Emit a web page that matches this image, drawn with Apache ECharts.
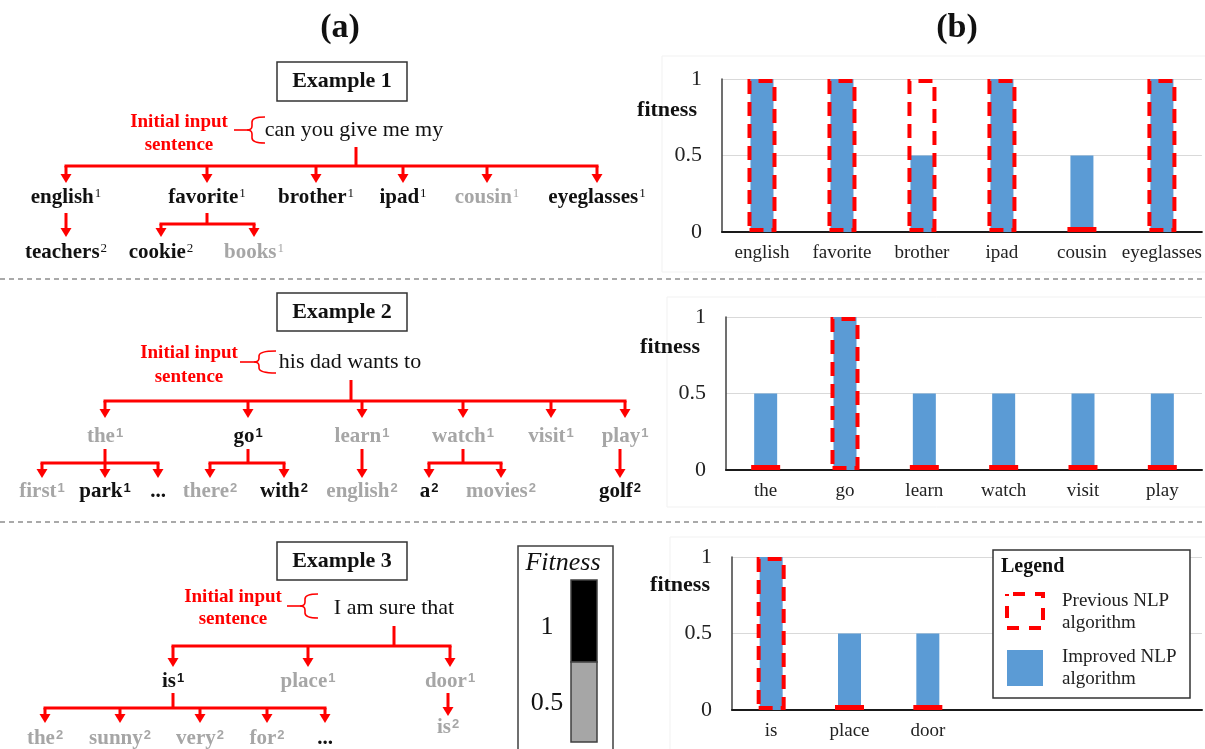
<!DOCTYPE html>
<html>
<head>
<meta charset="utf-8">
<script src="https://cdn.jsdelivr.net/npm/echarts@6/dist/echarts.min.js"></script>
<style>
  html, body { margin: 0; padding: 0; background: #ffffff; }
  #main { width: 1205px; height: 749px; }
</style>
</head>
<body>
<div id="main"></div>
<script>
// ---------- bar chart data (fitness per candidate word) ----------
const chart1Words = ['english', 'favorite', 'brother', 'ipad', 'cousin', 'eyeglasses'];
const chart1Improved = [1, 1, 0.5, 1, 0.5, 1];
const chart1Previous = [1, 1, 1, 1, 0, 1];

const chart2Words = ['the', 'go', 'learn', 'watch', 'visit', 'play'];
const chart2Improved = [0.5, 1, 0.5, 0.5, 0.5, 0.5];
const chart2Previous = [0, 1, 0, 0, 0, 0];

const chart3Words = ['is', 'place', 'door'];
const chart3Improved = [1, 0.5, 0.5];
const chart3Previous = [1, 0, 0];

const yTickValues = [0, 0.5, 1];
const legendNames = ['Previous NLP algorithm', 'Improved NLP algorithm'];

// ---------- prediction trees ----------
const ex1Sentence = 'can you give me my';
const ex1Level1 = ['english', 'favorite', 'brother', 'ipad', 'cousin', 'eyeglasses'];
const ex1Level1Sup = [1, 1, 1, 1, 1, 1];
const ex1Level1Fit = [1, 1, 1, 1, 0.5, 1];
const ex1Level2 = [['teachers'], ['cookie', 'books'], [], [], [], []];
const ex1Level2Sup = [[2], [2, 1], [], [], [], []];
const ex1Level2Fit = [[1], [1, 0.5], [], [], [], []];

const ex2Sentence = 'his dad wants to';
const ex2Level1 = ['the', 'go', 'learn', 'watch', 'visit', 'play'];
const ex2Level1Sup = [1, 1, 1, 1, 1, 1];
const ex2Level1Fit = [0.5, 1, 0.5, 0.5, 0.5, 0.5];
const ex2Level2 = [['first', 'park', '...'], ['there', 'with'], ['english'], ['a', 'movies'], [], ['golf']];
const ex2Level2Sup = [[1, 1, ''], [2, 2], [2], [2, 2], [], [2]];
const ex2Level2Fit = [[0.5, 1, 1], [0.5, 1], [0.5], [1, 0.5], [], [1]];

const ex3Sentence = 'I am sure that';
const ex3Level1 = ['is', 'place', 'door'];
const ex3Level1Sup = [1, 1, 1];
const ex3Level1Fit = [1, 0.5, 0.5];
const ex3Level2 = [['the', 'sunny', 'very', 'for', '...'], [], ['is']];
const ex3Level2Sup = [[2, 2, 2, 2, ''], [], [2]];
const ex3Level2Fit = [[0.5, 0.5, 0.5, 0.5, 1], [], [0.5]];

const fitnessScale = ['1', '0.5'];

// ---------- styling ----------
const SERIF = '"Liberation Serif", "Times New Roman", serif';
const SANS = '"Liberation Sans", Arial, sans-serif';
const RED = '#ff0000';
const BLUE = '#5b9bd5';
const INK = '#111111';
const FADED = '#a6a6a6';

// ---------- tree layouts (pixel positions) ----------
const ex1Layout = {
  box: [277, 62, 130, 39], title: 'Example 1',
  tag: [179, 122, 145], brace: { tick: 234, tip: 247, right: 265, mid: 130, half: 13 },
  sentX: 354, sentY: 130, stemX: 356, stemTop: 147, barY: 166, tipY: 183, labelY: 198,
  l1X: [66, 207, 316, 403, 487, 597],
  l2X: [[66], [161, 254], [], [], [], []],
  l2Top: 213, l2BarY: 224, l2TipY: 237, l2LabelY: 253, singleTipY: 237, singleLabelY: 253,
  size: 21, supSize: 13, supFamily: SERIF, supWeight: 'normal'
};
const ex2Layout = {
  box: [277, 293, 130, 38], title: 'Example 2',
  tag: [189, 353, 377], brace: { tick: 240, tip: 254, right: 276, mid: 362, half: 11 },
  sentX: 350, sentY: 362, stemX: 351, stemTop: 380, barY: 401, tipY: 418, labelY: 437,
  l1X: [105, 248, 362, 463, 551, 625],
  l2X: [[42, 105, 158], [210, 284], [362], [429, 501], [], [620]],
  l2Top: 449, l2BarY: 463, l2TipY: 478, l2LabelY: 492, singleTipY: 478, singleLabelY: 492,
  size: 21, supSize: 13, supFamily: SANS, supWeight: 'bold'
};
const ex3Layout = {
  box: [277, 542, 130, 38], title: 'Example 3',
  tag: [233, 597, 619], brace: { tick: 287, tip: 300, right: 318, mid: 606, half: 12 },
  sentX: 394, sentY: 608, stemX: 394, stemTop: 626, barY: 646, tipY: 667, labelY: 682,
  l1X: [173, 308, 450],
  l2X: [[45, 120, 200, 267, 325], [], [448]],
  l2Top: 693, l2BarY: 708, l2TipY: 723, l2LabelY: 739, singleTipY: 716, singleLabelY: 728,
  size: 21, supSize: 13, supFamily: SANS, supWeight: 'bold'
};

// ---------- drawing helpers ----------
function redLine(x1, y1, x2, y2) {
  return { type: 'line', shape: { x1, y1, x2, y2 }, style: { stroke: RED, lineWidth: 3 }, z: 5 };
}
function arrow(x, y1, y2) {
  return [
    redLine(x, y1, x, y2 - 6),
    { type: 'polygon', shape: { points: [[x - 5.5, y2 - 9], [x + 5.5, y2 - 9], [x, y2]] }, style: { fill: RED }, z: 5 }
  ];
}
function plainText(x, y, text, size, opts) {
  opts = opts || {};
  return {
    type: 'text', x, y, z: 10,
    style: {
      text, fontFamily: SERIF, fontSize: size, fontWeight: opts.weight || 'normal',
      fontStyle: opts.italic ? 'italic' : 'normal',
      fill: opts.color || INK, align: opts.align || 'center', verticalAlign: 'middle',
      textAlign: opts.align || 'center', textVerticalAlign: 'middle'
    }
  };
}
function wordLabel(x, y, word, sup, fit, L) {
  const col = fit >= 1 ? INK : FADED;
  const txt = sup !== '' ? '{w|' + word + '}{s|' + sup + '}' : '{w|' + word + '}';
  return {
    type: 'text', x, y, z: 10,
    style: {
      text: txt, align: 'center', verticalAlign: 'middle', textAlign: 'center', textVerticalAlign: 'middle',
      rich: {
        w: { fontFamily: SERIF, fontWeight: 'bold', fontSize: L.size, lineHeight: L.size, fill: col },
        s: { fontFamily: L.supFamily, fontWeight: L.supWeight, fontSize: L.supSize, lineHeight: L.supSize,
             verticalAlign: 'top', fill: col, padding: [0, 0, 0, 1] }
      }
    }
  };
}
function brace(b) {
  const st = { stroke: RED, lineWidth: 1.6, fill: null };
  const xc = b.tip + 5;
  const top = b.mid - b.half, bot = b.mid + b.half;
  return [
    { type: 'line', shape: { x1: b.tick, y1: b.mid, x2: b.tip, y2: b.mid }, style: st, z: 5 },
    { type: 'bezierCurve', shape: { x1: b.right, y1: top, cpx1: xc, cpy1: top, x2: xc, y2: top + 5 }, style: st, z: 5 },
    { type: 'line', shape: { x1: xc, y1: top + 5, x2: xc, y2: b.mid - 4 }, style: st, z: 5 },
    { type: 'bezierCurve', shape: { x1: xc, y1: b.mid - 4, cpx1: xc, cpy1: b.mid, x2: b.tip, y2: b.mid }, style: st, z: 5 },
    { type: 'bezierCurve', shape: { x1: b.tip, y1: b.mid, cpx1: xc, cpy1: b.mid, x2: xc, y2: b.mid + 4 }, style: st, z: 5 },
    { type: 'line', shape: { x1: xc, y1: b.mid + 4, x2: xc, y2: bot - 5 }, style: st, z: 5 },
    { type: 'bezierCurve', shape: { x1: xc, y1: bot - 5, cpx1: xc, cpy1: bot, x2: b.right, y2: bot }, style: st, z: 5 }
  ];
}
function buildTree(sentence, l1, l1Sup, l1Fit, l2, l2Sup, l2Fit, L) {
  const els = [];
  const [bx, by, bw, bh] = L.box;
  els.push({ type: 'rect', shape: { x: bx, y: by, width: bw, height: bh },
             style: { fill: '#fff', stroke: '#333', lineWidth: 1.5 }, z: 4 });
  els.push(plainText(bx + bw / 2, by + bh / 2, L.title, 22, { weight: 'bold' }));
  els.push(plainText(L.tag[0], L.tag[1], 'Initial input', 19, { weight: 'bold', color: RED }));
  els.push(plainText(L.tag[0], L.tag[2], 'sentence', 19, { weight: 'bold', color: RED }));
  els.push(...brace(L.brace));
  els.push(plainText(L.sentX, L.sentY, sentence, 22));
  els.push(redLine(L.stemX, L.stemTop, L.stemX, L.barY));
  els.push(redLine(Math.min(...L.l1X) - 1.5, L.barY, Math.max(...L.l1X) + 1.5, L.barY));
  L.l1X.forEach((x, i) => {
    els.push(...arrow(x, L.barY, L.tipY));
    els.push(wordLabel(x, L.labelY, l1[i], l1Sup[i], l1Fit[i], L));
    const kids = l2[i];
    const kx = L.l2X[i];
    if (!kids.length) return;
    if (kids.length === 1) {
      els.push(...arrow(kx[0], L.l2Top, L.singleTipY));
      els.push(wordLabel(kx[0], L.singleLabelY, kids[0], l2Sup[i][0], l2Fit[i][0], L));
      return;
    }
    els.push(redLine(x, L.l2Top, x, L.l2BarY));
    els.push(redLine(Math.min(...kx) - 1.5, L.l2BarY, Math.max(...kx) + 1.5, L.l2BarY));
    kids.forEach((k, j) => {
      els.push(...arrow(kx[j], L.l2BarY, L.l2TipY));
      els.push(wordLabel(kx[j], L.l2LabelY, k, l2Sup[i][j], l2Fit[i][j], L));
    });
  });
  return els;
}

// ---------- bar chart panels ----------
const panels = [
  { words: chart1Words, improved: chart1Improved, previous: chart1Previous,
    grid: { left: 722, top: 79, width: 480, height: 153 }, frame: [662, 56, 560, 216], fitness: [667, 110] },
  { words: chart2Words, improved: chart2Improved, previous: chart2Previous,
    grid: { left: 726, top: 317, width: 476, height: 153 }, frame: [667, 297, 560, 210], fitness: [670, 347] },
  { words: chart3Words, improved: chart3Improved, previous: chart3Previous,
    grid: { left: 732, top: 557, width: 470, height: 153 }, frame: [670, 537, 560, 230], fitness: [680, 585] }
];
const SLOTS = 6;

const grids = [], xAxes = [], yAxes = [], series = [];
const graphics = [];

panels.forEach((p, i) => {
  grids.push(Object.assign({ containLabel: false }, p.grid));
  const cats = p.words.concat(new Array(SLOTS - p.words.length).fill(''));
  // visible category axis (improved bars) and a twin hidden one (previous outlines),
  // so each series is centred on its category with its own width
  xAxes.push({
    gridIndex: i, type: 'category', data: cats,
    axisLine: { show: true, lineStyle: { color: '#1a1a1a', width: 2 } },
    axisTick: { show: false },
    axisLabel: { interval: 0, fontFamily: SERIF, fontSize: 19, color: '#222', margin: 12 }
  });
  xAxes.push({ gridIndex: i, type: 'category', data: cats, show: false });
  yAxes.push({
    gridIndex: i, type: 'value', min: yTickValues[0], max: yTickValues[yTickValues.length - 1],
    interval: yTickValues[1] - yTickValues[0],
    axisLine: { show: true, lineStyle: { color: '#404040', width: 1.5 } },
    axisTick: { show: false },
    splitLine: { show: true, lineStyle: { color: '#d9d9d9', width: 1 } },
    axisLabel: { fontFamily: SERIF, fontSize: 22, color: '#222', margin: 20 }
  });
  series.push({
    name: legendNames[1], type: 'bar', xAxisIndex: 2 * i, yAxisIndex: i,
    barWidth: 23, data: p.improved,
    itemStyle: { color: BLUE }, silent: true, z: 2
  });
  series.push({
    name: legendNames[0], type: 'bar', xAxisIndex: 2 * i + 1, yAxisIndex: i,
    barWidth: 29, barMinHeight: 5,
    data: p.previous.map(v => v === 0
      ? { value: v, itemStyle: { color: RED, borderColor: RED, borderWidth: 0 } }
      : { value: v, itemStyle: { color: 'rgba(0,0,0,0)', borderColor: RED, borderWidth: 4, borderType: [14, 8] } }),
    silent: true, z: 3
  });
  const [fx, fy, fw, fh] = p.frame;
  graphics.push({ type: 'rect', shape: { x: fx, y: fy, width: fw, height: fh },
                  style: { fill: null, stroke: '#f1f1f1', lineWidth: 1 }, z: -1 });
  graphics.push(plainText(p.fitness[0], p.fitness[1], 'fitness', 22, { weight: 'bold' }));
});

// ---------- panel headings and separators ----------
graphics.push(plainText(340, 28, '(a)', 34, { weight: 'bold' }));
graphics.push(plainText(957, 28, '(b)', 34, { weight: 'bold' }));
[279, 522].forEach(y => graphics.push({
  type: 'line', shape: { x1: 0, y1: y, x2: 1205, y2: y },
  style: { stroke: '#555', lineWidth: 1.2, lineDash: [5, 4] }, z: 1
}));

// ---------- trees ----------
graphics.push(...buildTree(ex1Sentence, ex1Level1, ex1Level1Sup, ex1Level1Fit, ex1Level2, ex1Level2Sup, ex1Level2Fit, ex1Layout));
graphics.push(...buildTree(ex2Sentence, ex2Level1, ex2Level1Sup, ex2Level1Fit, ex2Level2, ex2Level2Sup, ex2Level2Fit, ex2Layout));
graphics.push(...buildTree(ex3Sentence, ex3Level1, ex3Level1Sup, ex3Level1Fit, ex3Level2, ex3Level2Sup, ex3Level2Fit, ex3Layout));

// ---------- fitness shade key ----------
graphics.push({ type: 'rect', shape: { x: 518, y: 546, width: 95, height: 230 },
                style: { fill: '#fff', stroke: '#404040', lineWidth: 1.5 }, z: 4 });
graphics.push(plainText(563, 563, 'Fitness', 26, { italic: true }));
graphics.push({ type: 'rect', shape: { x: 571, y: 580, width: 26, height: 82 },
                style: { fill: '#000', stroke: '#404040', lineWidth: 1.5 }, z: 5 });
graphics.push({ type: 'rect', shape: { x: 571, y: 662, width: 26, height: 80 },
                style: { fill: FADED, stroke: '#404040', lineWidth: 1.5 }, z: 5 });
graphics.push(plainText(547, 627, fitnessScale[0], 26));
graphics.push(plainText(547, 703, fitnessScale[1], 26));

// ---------- legend box ----------
graphics.push({ type: 'rect', shape: { x: 993, y: 550, width: 197, height: 148 },
                style: { fill: '#fff', stroke: '#333', lineWidth: 1.5 }, z: 20 });
graphics.push(Object.assign(plainText(1001, 567, 'Legend', 20, { weight: 'bold', align: 'left' }), { z: 21 }));
graphics.push({ type: 'rect', shape: { x: 1007, y: 594, width: 36, height: 34 },
                style: { fill: null, stroke: RED, lineWidth: 4, lineDash: [12, 10], lineDashOffset: -6 }, z: 21 });
graphics.push({ type: 'rect', shape: { x: 1007, y: 650, width: 36, height: 36 },
                style: { fill: BLUE }, z: 21 });
[['Previous NLP', 601], ['algorithm', 623], ['Improved NLP', 657], ['algorithm', 679]].forEach(([t, y]) =>
  graphics.push(Object.assign(plainText(1062, y, t, 19, { align: 'left', color: '#222' }), { z: 21 })));

const chart = echarts.init(document.getElementById('main'), null, { renderer: 'canvas' });
chart.setOption({
  backgroundColor: '#ffffff',
  animation: false,
  grid: grids,
  xAxis: xAxes,
  yAxis: yAxes,
  series: series,
  graphic: { elements: graphics }
});
</script>
</body>
</html>
